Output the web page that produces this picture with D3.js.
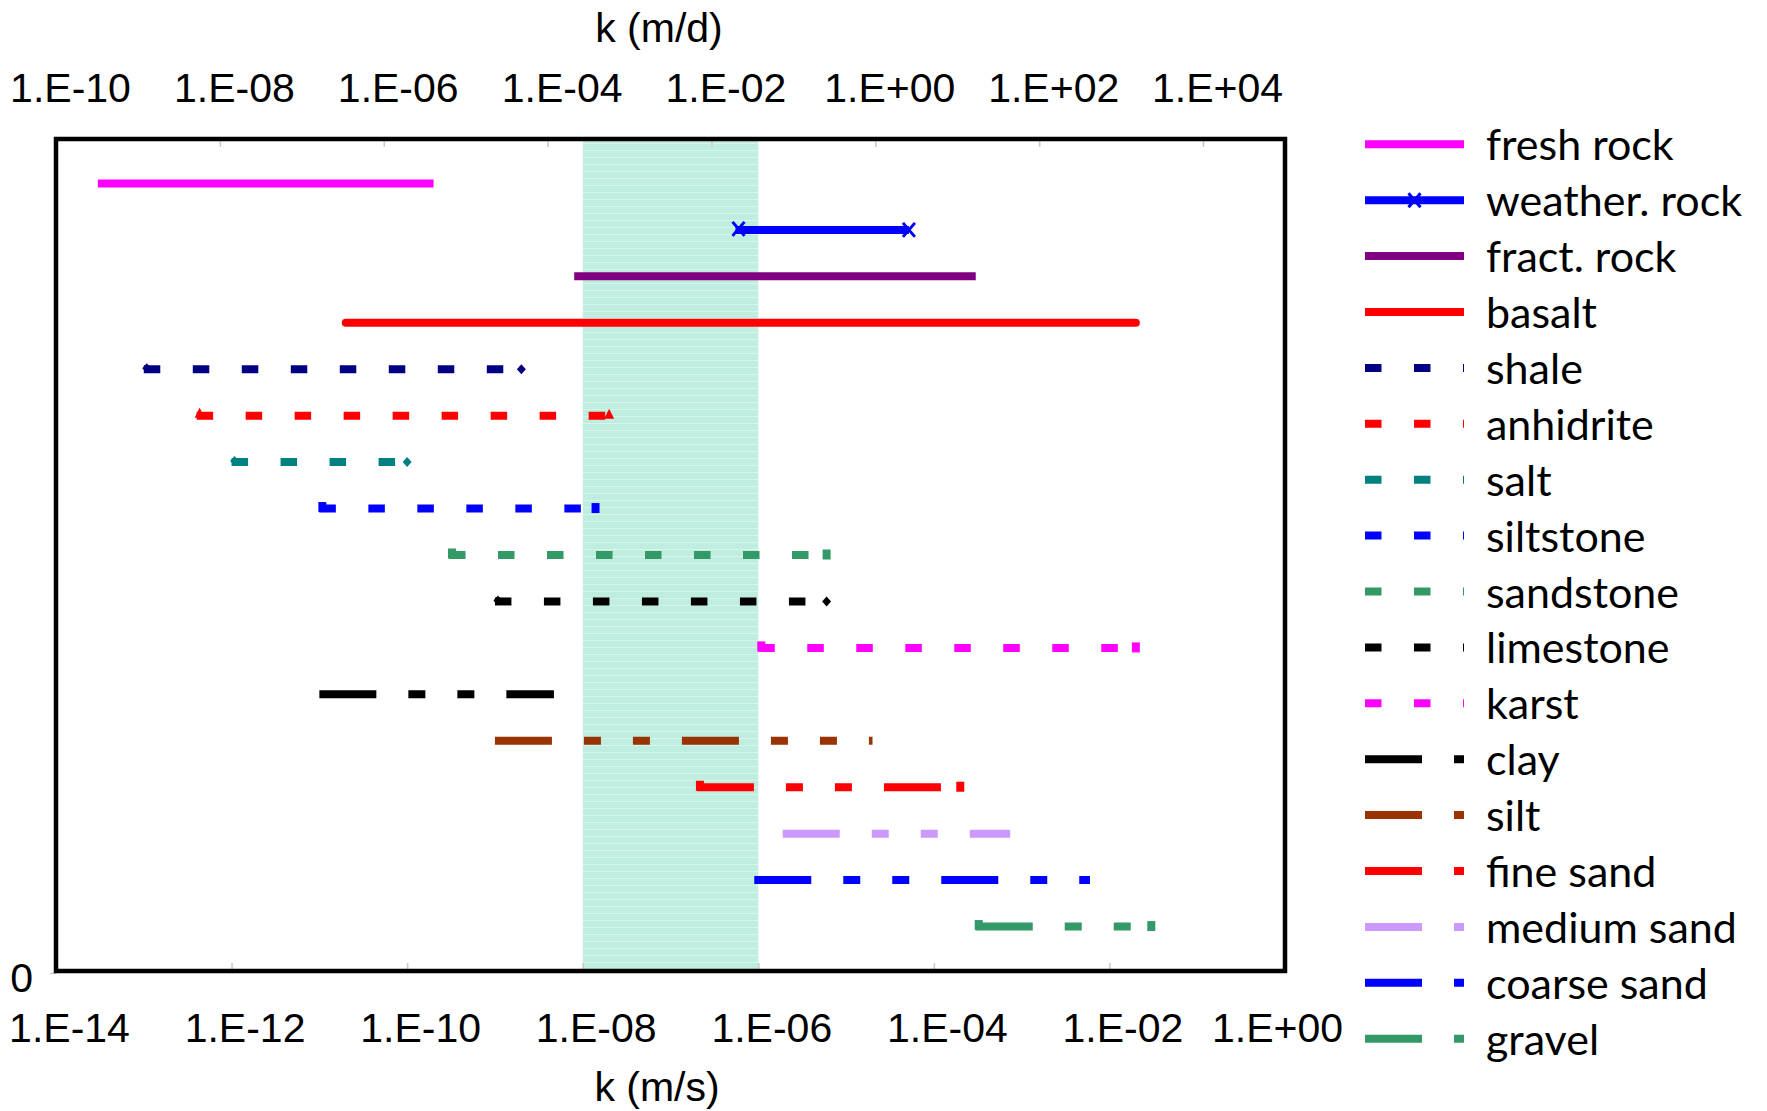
<!DOCTYPE html>
<html>
<head>
<meta charset="utf-8">
<script src="https://cdn.jsdelivr.net/npm/d3@7"></script>
<style>
  html, body { margin: 0; padding: 0; background: #fff; }
  svg { display: block; }
  .axis text { font-family: "Liberation Sans", Arial, sans-serif; font-size: 41px; fill: #000; }
  .axis line { stroke: #c8c8c8; stroke-width: 1.5; }
  .axis .domain { display: none; }
  .axis-title { font-family: "Liberation Sans", Arial, sans-serif; font-size: 41px; fill: #000; }
  .legend text { font-family: Lato, "Open Sans", sans-serif; font-size: 43px; fill: #000; }
</style>
</head>
<body>
<svg id="chart" width="1767" height="1111"></svg>
<script>
'use strict';

// hydraulic conductivity ranges, k in m/s
var names = ['fresh rock', 'weather. rock', 'fract. rock', 'basalt', 'shale', 'anhidrite', 'salt',
  'siltstone', 'sandstone', 'limestone', 'karst', 'clay', 'silt', 'fine sand', 'medium sand',
  'coarse sand', 'gravel'];
var kMin = [3e-14, 5.5e-7, 8e-9, 2e-11, 1e-13, 4e-13, 1e-12, 1e-11, 3e-10, 1e-9, 1e-6, 1e-11,
  1e-9, 2e-7, 1.9e-6, 9e-7, 3e-4];
var kMax = [2e-10, 5.2e-5, 3e-4, 2e-2, 2e-9, 2e-8, 1e-10, 1.4e-8, 6e-6, 6e-6, 2e-2, 4.7e-9,
  2e-5, 2e-4, 7.4e-4, 6e-3, 3e-2];

// shaded band (m/s)
var band = [1e-8, 1e-6];

// axis ticks
var bottomTicks = [1e-14, 1e-12, 1e-10, 1e-8, 1e-6, 1e-4, 1e-2, 1];
var topTicks = [1e-10, 1e-8, 1e-6, 1e-4, 1e-2, 1, 1e2, 1e4];

// series styling
var colors = ['#ff00ff', '#0000ff', '#800080', '#ff0000', '#000080', '#ff0000', '#008080',
  '#0000ff', '#339966', '#000000', '#ff00ff', '#000000', '#993300', '#ff0000', '#cc99ff',
  '#0000ff', '#339966'];
var dashKinds = ['solid', 'solid', 'solid', 'solid', 'dash', 'dash', 'dash', 'dash', 'dash',
  'dash', 'dash', 'longdot', 'longdot', 'longdot', 'longdot', 'longdot', 'longdot'];
var markers = [null, 'x', null, null, 'diamond', 'triangle', 'diamond', 'square', 'square',
  'diamond', 'square', null, null, 'square', null, null, 'square'];

var dashArrays = {
  solid: null,
  dash: '16.5 32.5',
  longdot: '57 32 17 32 17 32'
};

var margin = { left: 56, right: 1285, top: 139, bottom: 971 };

var svg = d3.select('#chart');

var x = d3.scaleLog().domain([1e-14, 1]).range([margin.left, margin.right]),
    xTop = d3.scaleLog().domain([1e-10, 1e5]).range([margin.left, margin.right]),
    y = d3.scaleLinear().domain([0, 18]).range([973, 137]);

function expLabel(v) {
  var e = Math.round(Math.log10(v)),
      s = e < 0 ? '-' : '+',
      a = Math.abs(e);
  return '1.E' + s + (a < 10 ? '0' + a : a);
}

// striped fill for the band
var defs = svg.append('defs');
var pat = defs.append('pattern')
  .attr('id', 'stripes')
  .attr('patternUnits', 'userSpaceOnUse')
  .attr('width', 10).attr('height', 7);
pat.append('rect').attr('width', 10).attr('height', 7).attr('fill', '#bfeee0');
pat.append('rect').attr('y', 3).attr('width', 10).attr('height', 1).attr('fill', '#d6f5ec');

svg.append('rect')
  .attr('x', x(band[0]))
  .attr('y', margin.top)
  .attr('width', x(band[1]) - x(band[0]))
  .attr('height', margin.bottom - margin.top)
  .attr('fill', 'url(#stripes)');

// axes
var bottomAxis = svg.append('g')
  .attr('class', 'axis')
  .attr('transform', 'translate(0,' + margin.bottom + ')')
  .call(d3.axisBottom(x).tickValues(bottomTicks).tickFormat(expLabel)
    .tickSizeInner(-8).tickSizeOuter(0).tickPadding(42));
bottomAxis.selectAll('text').attr('dx', 13);
bottomAxis.selectAll('text').filter(function (d, i) { return i === bottomTicks.length - 1; })
  .attr('dx', -8);

var topAxis = svg.append('g')
  .attr('class', 'axis')
  .attr('transform', 'translate(0,' + margin.top + ')')
  .call(d3.axisTop(xTop).tickValues(topTicks).tickFormat(expLabel)
    .tickSizeInner(-8).tickSizeOuter(0).tickPadding(37));
topAxis.selectAll('text').attr('dx', 14);

var leftAxis = svg.append('g')
  .attr('class', 'axis')
  .attr('transform', 'translate(' + margin.left + ',0)')
  .call(d3.axisLeft(y).tickValues([0]).tickSizeInner(6).tickSizeOuter(0).tickPadding(17));
leftAxis.selectAll('text').attr('dy', '0.45em');

svg.append('text').attr('class', 'axis-title')
  .attr('x', 659).attr('y', 42).attr('text-anchor', 'middle').text('k (m/d)');
svg.append('text').attr('class', 'axis-title')
  .attr('x', 657).attr('y', 1101).attr('text-anchor', 'middle').text('k (m/s)');

function markerPath(type) {
  if (type === 'diamond') return 'M0,-5L4.5,0L0,5L-4.5,0Z';
  if (type === 'triangle') return 'M0,-7L5,3L-5,3Z';
  if (type === 'square') return 'M-4,-5.5L4,-5.5L4,4.5L-4,4.5Z';
  if (type === 'x') return 'M-6,-7L6,7M-6,7L6,-7';
  return null;
}

function drawMarker(g, type, cx, cy, color) {
  var d = markerPath(type);
  if (!d) return;
  var p = g.append('path')
    .attr('d', d)
    .attr('transform', 'translate(' + cx + ',' + cy + ')');
  if (type === 'x') {
    p.attr('fill', 'none').attr('stroke', color).attr('stroke-width', 3);
  } else {
    p.attr('fill', color);
  }
}

// series lines
var rows = svg.append('g').attr('class', 'rows');

names.forEach(function (name, i) {
  var yy = y(17 - i),
      x0 = x(kMin[i]),
      x1 = x(kMax[i]),
      g = rows.append('g').attr('class', 'series');

  g.append('line')
    .attr('x1', x0).attr('x2', x1)
    .attr('y1', yy).attr('y2', yy)
    .attr('stroke', colors[i])
    .attr('stroke-width', 8)
    .attr('stroke-linecap', name === 'basalt' ? 'round' : 'butt')
    .attr('stroke-dasharray', dashArrays[dashKinds[i]]);

  // left marker sits mostly under the first dash, so keep it offset a touch
  drawMarker(g, markers[i], x0 + 3, yy - 1, colors[i]);
  drawMarker(g, markers[i], x1, yy, colors[i]);
});

// plot frame
svg.append('rect')
  .attr('x', margin.left)
  .attr('y', margin.top)
  .attr('width', margin.right - margin.left)
  .attr('height', margin.bottom - margin.top)
  .attr('fill', 'none')
  .attr('stroke', '#000')
  .attr('stroke-width', 4.5);

// legend
var legend = svg.append('g').attr('class', 'legend');
var lx0 = 1365, lx1 = 1464, ly0 = 144.3, lstep = 55.9;

names.forEach(function (name, i) {
  var yy = ly0 + i * lstep,
      g = legend.append('g');

  g.append('line')
    .attr('x1', lx0).attr('x2', lx1)
    .attr('y1', yy).attr('y2', yy)
    .attr('stroke', colors[i])
    .attr('stroke-width', 8)
    .attr('stroke-dasharray', dashArrays[dashKinds[i]]);

  if (markers[i] === 'x') drawMarker(g, 'x', (lx0 + lx1) / 2, yy, colors[i]);

  g.append('text')
    .attr('x', 1486)
    .attr('y', yy + 16)
    .text(name);
});
</script>
</body>
</html>
